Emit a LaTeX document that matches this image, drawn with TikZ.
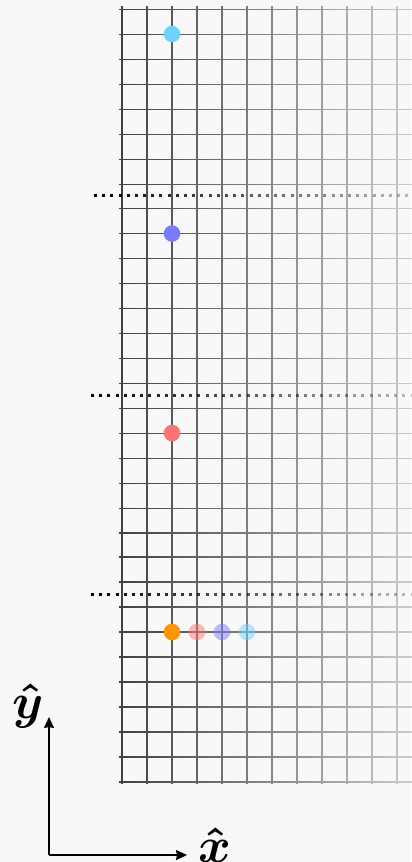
\documentclass[tikz,border=0pt]{standalone}
\usepackage{graphicx}
\usepackage{amsmath,bm}
\usetikzlibrary{fadings,arrows.meta}
\definecolor{bg}{HTML}{F8F8F8}
\definecolor{dotcyan}{HTML}{6ED4FF}
\definecolor{dotblue}{HTML}{7B7BFF}
\definecolor{dotred}{HTML}{FF7373}
\definecolor{dotorange}{HTML}{FF9500}
\tikzfading[name=fadeR, left color=transparent!0, right color=transparent!80]
\tikzset{
  gridline/.style={line width=1.2bp, black!75},
  sepline/.style={line width=3bp, black, dash pattern=on 3bp off 5.2bp},
  dot/.style={circle, inner sep=0pt, minimum size=16.6bp},
  axis/.style={line width=1.5bp, black, -{Stealth[length=11bp,width=10bp,inset=1bp]}},
  axlabel/.style={inner sep=0pt}
}
\newcommand{\biglab}[1]{\scalebox{5}{$\boldsymbol{\hat{#1}}$}}
\begin{document}
\begin{tikzpicture}[x=1bp,y=-1bp]
\useasboundingbox[fill=bg] (0,0) rectangle (411,862);
% grid
\draw[gridline, path fading=fadeR]
  \foreach \k in {0,...,31} { (119,{round(9+24.93*\k)}) -- (428,{round(9+24.93*\k)}) }
  \foreach \k in {0,...,12} { ({122+25*\k},6) -- ({122+25*\k},784) };
% separators
\draw[sepline, path fading=fadeR] (94,195.5) -- (428,195.5);
\draw[sepline, path fading=fadeR] (91,395) -- (428,395);
\draw[sepline, path fading=fadeR] (91,594.5) -- (428,594.5);
% dots
\node[dot, fill=dotcyan] (c1) at (172,34) {};
\node[dot, fill=dotblue] (b1) at (172,233.5) {};
\node[dot, fill=dotred] (r1) at (172,433) {};
\node[dot, fill=dotorange] (o1) at (172,632) {};
\node[dot, fill=dotred, opacity=0.5] (r2) at (197,632) {};
\node[dot, fill=dotblue, opacity=0.5] (b2) at (222,632) {};
\node[dot, fill=dotcyan, opacity=0.5] (c2) at (247,632) {};
% axes
\coordinate (orig) at (49,855);
\coordinate (ytip) at (49,717);
\coordinate (xtip) at (187,855);
\draw[axis] (orig) -- (ytip);
\draw[axis] (orig) -- (xtip);
\node[axlabel, anchor=base] (ylab) at (28,718) {\biglab{y}};
\node[axlabel, anchor=base west] (xlab) at (198,862) {\biglab{x}};
\end{tikzpicture}
\end{document}
